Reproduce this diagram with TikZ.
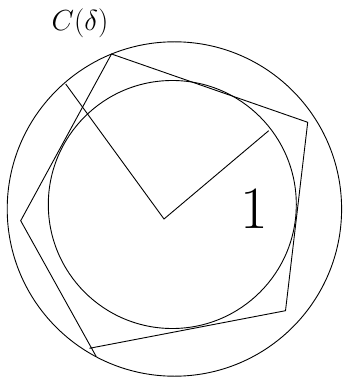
\RequirePackage{fix-cm}
\documentclass[tikz,border=0pt]{standalone}
\begin{document}
\begin{tikzpicture}[x=1pt,y=-1pt,
  ln/.style={line width=0.9pt,black},
  lbl/.style={inner sep=0pt,anchor=base}]
\useasboundingbox (0,0) rectangle (342,379);
% circles
\coordinate (oc) at (174.4,209);
\coordinate (ic) at (172.3,204.5);
\draw[ln] (oc) circle[radius=167.2];
\draw[ln] (ic) circle[radius=124];
% radii
\coordinate (p) at (164,219);
\coordinate (ra) at (65.7,84);
\coordinate (rb) at (268.7,130.7);
\draw[ln] (ra) -- (p) -- (rb);
% polygon
\coordinate (T) at (111.5,54);
\coordinate (R) at (307.7,122.3);
\coordinate (LR) at (285.5,310.7);
\coordinate (B) at (89.4,348.3);
\coordinate (L) at (20.7,220.7);
\coordinate (Le) at (96.2,356.5);
\draw[ln,line join=miter] (Le) -- (L) -- (T) -- (R) -- (LR) -- (B);
% labels
\node[lbl] (cd) at (80,30.5) {\fontsize{29}{34}\selectfont $C(\delta)$};
\node[lbl] (one) at (254.5,228) {\fontsize{60}{70}\selectfont 1};
\end{tikzpicture}
\end{document}
